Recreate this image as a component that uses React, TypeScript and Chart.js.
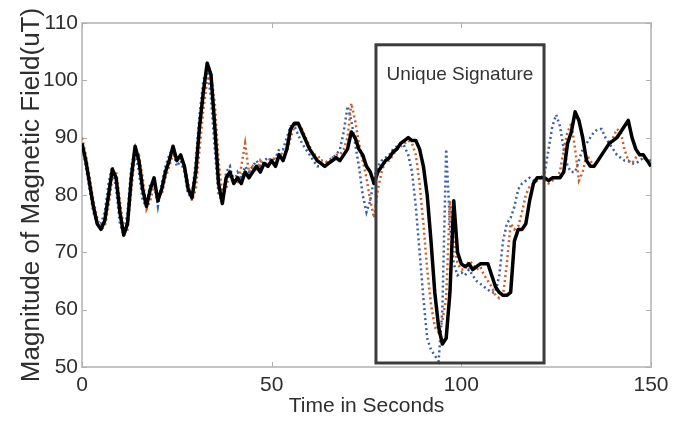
import React, { useEffect, useRef } from "react";
import { Chart, registerables } from "chart.js";

Chart.register(...registerables);

// Sampling: one value per second, t = 0 .. 150 s
const SAMPLE_COUNT = 151;
const TIME_S = Array.from({ length: SAMPLE_COUNT }, (_, i) => i);

// Black solid trace (uT)
const TRACE_BLACK = [
  89, 86, 82, 78, 75, 74, 75.5, 80, 84.5, 83,
  77, 73, 75, 83, 88.5, 86, 81, 78, 81, 83,
  79, 81, 84, 86, 88.5, 86, 87, 85, 81, 79.5,
  84, 92, 98, 103, 101, 92, 82, 78.5, 83, 84,
  82, 83, 82, 84, 83, 84, 85, 84, 85.5, 85,
  86, 85, 87, 86, 88, 91.5, 92.5, 92.5, 91, 89.5,
  88, 87, 86, 85.5, 85, 85.5, 86, 86.5, 86, 87,
  88, 91, 90, 88, 87, 85, 84, 82, 84, 85,
  86, 86.5, 87.5, 88, 89, 89.5, 90, 89.5, 89.5, 88,
  85, 80, 72, 63, 57, 54, 55, 63, 79, 70,
  68, 67.5, 68, 67, 67.5, 68, 68, 68, 66, 64,
  63, 62.5, 62.5, 63, 72, 74, 74, 75, 79, 82,
  83, 83, 83, 82.5, 83, 83, 83, 84, 89, 91,
  94.5, 93, 90, 86, 85, 85, 86, 87, 88, 89,
  89.5, 90, 91, 92, 93, 90, 88, 87, 87, 86,
  85,
];

// Orange dotted trace (uT)
const TRACE_ORANGE = [
  90, 87, 83, 79, 76, 74, 74.5, 78, 83, 84,
  79, 74, 74, 81, 87, 87, 83, 77.5, 79, 82,
  80, 80, 83, 85, 87, 86.5, 86, 85.5, 82, 79,
  81, 88, 95, 100, 101, 96, 86, 80, 81, 84,
  83, 82, 85, 89, 84, 85, 84, 86, 85, 86,
  86.5, 86, 87.5, 87, 87.5, 90, 92, 92.5, 91.5, 90,
  88.5, 87, 87, 86, 86, 85.5, 86.5, 87, 87, 88,
  90, 96, 93, 89, 86, 83, 79, 76, 81, 84,
  86, 86, 87, 88, 88.5, 89, 89.5, 89, 87, 82,
  75, 67, 61, 57, 56, 58, 62, 79, 72, 68,
  67, 67, 68.5, 68, 67, 67.5, 66, 65, 64, 62.5,
  62, 62.5, 68, 75, 74, 74.5, 77, 80, 81.5, 82,
  82.5, 83, 82.5, 82, 82.5, 83, 84, 88, 91, 92.5,
  88, 82.5, 84, 87, 86, 85, 86, 87, 88, 89,
  90, 91.5, 91, 88, 86, 85.5, 86.5, 87, 86.5, 86,
  86,
];

// Blue dotted trace (uT)
const TRACE_BLUE = [
  89, 85, 81, 77, 75, 75, 77, 82, 85, 81,
  75, 73, 77, 85, 88, 84, 79, 78, 82, 82,
  78, 82, 85, 87, 88, 85, 86, 84, 80, 80,
  86, 94, 100, 102, 97, 88, 80, 79, 84, 85,
  82, 84, 83, 85, 84, 85, 86, 85, 86, 86.5,
  86, 86.5, 88, 88, 90, 92, 92, 90.5, 89, 88,
  87, 86, 85, 85, 85.5, 86, 86.5, 87, 88, 91,
  95.5, 93, 89, 85, 80, 77, 79, 83, 85, 86,
  86.5, 87, 88, 88.5, 89, 88.5, 87, 84, 78, 70,
  62, 55, 53, 52, 51, 60, 88, 75, 68, 66,
  66.5, 66, 67, 66, 65, 64.5, 64, 63.5, 63, 63,
  66, 72, 75, 76, 78, 81, 82, 82.5, 83, 82.5,
  83, 83, 84, 88, 92, 94, 92, 88, 85, 84,
  84, 86, 88, 89, 90, 91, 91.5, 91.5, 90, 89,
  88, 87, 86.5, 86, 86, 85.5, 85.5, 86, 86.5, 86,
  86,
];

const X_TICKS = [0, 50, 100, 150];
const Y_TICKS = [50, 60, 70, 80, 90, 100, 110];

const X_TITLE = "Time in Seconds";
const Y_TITLE = "Magnitude of Magnetic Field(uT)";

// "Unique Signature" box in data coordinates
const SIGNATURE_START_S = 77.5;
const SIGNATURE_END_S = 121.8;
const SIGNATURE_LOW_UT = 50.7;
const SIGNATURE_HIGH_UT = 106.2;
const SIGNATURE_LABEL = "Unique Signature";
const SIGNATURE_LABEL_UT = 101;

const FONT = '"Liberation Sans", Arial, Helvetica, sans-serif';

const framePlugin = {
  id: "framePlugin",
  beforeDatasetsDraw(chart: any) {
    const { ctx, chartArea: a, scales } = chart;
    const xs = scales.x;
    const ys = scales.y;
    ctx.save();
    ctx.strokeStyle = "#c4c4c4";
    ctx.lineWidth = 2;
    ctx.strokeRect(a.left, a.top, a.right - a.left, a.bottom - a.top);
    ctx.strokeStyle = "#b0b0b0";
    ctx.lineWidth = 1;
    const len = 5;
    ctx.beginPath();
    X_TICKS.forEach((v) => {
      const p = Math.round(xs.getPixelForValue(v)) + 0.5;
      ctx.moveTo(p, a.bottom);
      ctx.lineTo(p, a.bottom - len);
      ctx.moveTo(p, a.top);
      ctx.lineTo(p, a.top + len);
    });
    Y_TICKS.forEach((v) => {
      const p = Math.round(ys.getPixelForValue(v)) + 0.5;
      ctx.moveTo(a.left, p);
      ctx.lineTo(a.left + len, p);
      ctx.moveTo(a.right, p);
      ctx.lineTo(a.right - len, p);
    });
    ctx.stroke();
    ctx.restore();
  },
  afterDatasetsDraw(chart: any) {
    const { ctx, scales } = chart;
    const xs = scales.x;
    const ys = scales.y;
    const l = xs.getPixelForValue(SIGNATURE_START_S);
    const r = xs.getPixelForValue(SIGNATURE_END_S);
    const t = ys.getPixelForValue(SIGNATURE_HIGH_UT);
    const b = ys.getPixelForValue(SIGNATURE_LOW_UT);
    ctx.save();
    ctx.strokeStyle = "#3c3c3c";
    ctx.lineWidth = 3;
    ctx.strokeRect(l, t, r - l, b - t);
    ctx.fillStyle = "#333333";
    ctx.font = `19px ${FONT}`;
    ctx.textAlign = "center";
    ctx.textBaseline = "middle";
    ctx.fillText(SIGNATURE_LABEL, (l + r) / 2, ys.getPixelForValue(SIGNATURE_LABEL_UT));
    ctx.restore();
  },
};

function toPoints(values: number[]) {
  return values.map((v, i) => ({ x: TIME_S[i], y: v }));
}

export default function App() {
  const canvasRef = useRef<HTMLCanvasElement | null>(null);

  useEffect(() => {
    if (!canvasRef.current) return;
    const chart = new Chart(canvasRef.current, {
      type: "line",
      data: {
        datasets: [
          {
            label: "Trace 1",
            data: toPoints(TRACE_BLACK),
            borderColor: "#000000",
            borderWidth: 3.5,
            pointRadius: 0,
            tension: 0,
            borderJoinStyle: "round",
          },
          {
            label: "Trace 2",
            data: toPoints(TRACE_ORANGE),
            borderColor: "#c9602c",
            borderWidth: 2.5,
            borderDash: [2, 3],
            pointRadius: 0,
            tension: 0,
          },
          {
            label: "Trace 3",
            data: toPoints(TRACE_BLUE),
            borderColor: "#3d5fa6",
            borderWidth: 2.5,
            borderDash: [2, 3],
            pointRadius: 0,
            tension: 0,
          },
        ],
      },
      options: {
        animation: false,
        responsive: true,
        maintainAspectRatio: false,
        layout: { padding: { left: 0, top: 23, right: 28, bottom: 0 } },
        plugins: {
          legend: { display: false },
          tooltip: { enabled: false },
        },
        scales: {
          x: {
            type: "linear",
            min: 0,
            max: 150,
            afterFit: (s: any) => {
              s.height = 54;
            },
            afterBuildTicks: (s: any) => {
              s.ticks = X_TICKS.map((v) => ({ value: v }));
            },
            grid: { display: false, drawTicks: false },
            border: { display: false },
            ticks: {
              color: "#2e2e2e",
              font: { family: FONT, size: 21 },
              padding: 6,
              maxRotation: 0,
            },
            title: {
              display: true,
              text: X_TITLE,
              color: "#2e2e2e",
              font: { family: FONT, size: 21 },
              padding: { top: 0, bottom: 2 },
            },
          },
          y: {
            type: "linear",
            min: 50,
            max: 110,
            afterFit: (s: any) => {
              s.width = 82;
            },
            afterBuildTicks: (s: any) => {
              s.ticks = Y_TICKS.map((v) => ({ value: v }));
            },
            grid: { display: false, drawTicks: false },
            border: { display: false },
            ticks: {
              color: "#2e2e2e",
              font: { family: FONT, size: 21 },
              padding: 4,
            },
            title: {
              display: true,
              text: Y_TITLE,
              color: "#2e2e2e",
              font: { family: FONT, size: 26 },
              padding: { top: 16, bottom: 0 },
            },
          },
        },
      },
      plugins: [framePlugin],
    });
    return () => chart.destroy();
  }, []);

  return (
    <div
      style={{
        position: "fixed",
        left: 0,
        top: 0,
        width: 679,
        height: 421,
        background: "#ffffff",
      }}
    >
      <canvas ref={canvasRef} />
    </div>
  );
}
